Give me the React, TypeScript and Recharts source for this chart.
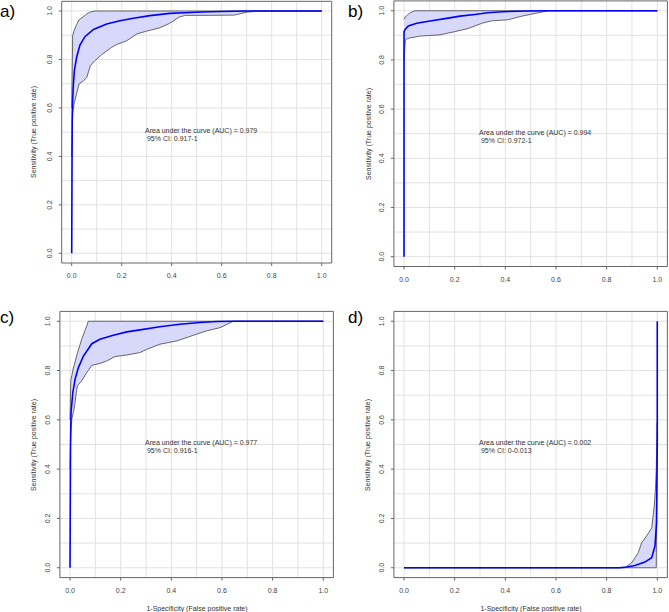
import { ComposedChart, Line, Area, XAxis, YAxis, CartesianGrid, ReferenceArea } from 'recharts'

const axisTicks = [0, 0.2, 0.4, 0.6, 0.8, 1]
const gridValues = [0, 0.1, 0.2, 0.3, 0.4, 0.5, 0.6, 0.7, 0.8, 0.9, 1]

// a)
const rocA_fpr = [0, 0.002, 0.004, 0.007, 0.011, 0.02, 0.033, 0.053, 0.087, 0.14, 0.193, 0.247, 0.313, 0.393, 0.45, 0.55, 0.7, 1]
const rocA_tpr = [0, 0.55, 0.64, 0.7, 0.756, 0.81, 0.859, 0.894, 0.924, 0.946, 0.96, 0.97, 0.981, 0.99, 0.993, 0.997, 1, 1]
const bandA_fpr = [0, 0.004, 0.01, 0.02, 0.03, 0.045, 0.06, 0.075, 0.093, 0.12, 0.14, 0.16, 0.18, 0.22, 0.26, 0.3, 0.35, 0.39, 0.43, 0.455, 0.55, 0.65, 0.7, 0.75, 1]
const bandA_lo = [0.4, 0.58, 0.62, 0.66, 0.7, 0.71, 0.725, 0.775, 0.795, 0.82, 0.835, 0.85, 0.862, 0.877, 0.905, 0.917, 0.93, 0.948, 0.975, 0.982, 0.982, 0.983, 0.995, 1, 1]
const bandA_hi = [0.6, 0.9, 0.92, 0.945, 0.965, 0.975, 0.988, 0.996, 1, 1, 1, 1, 1, 1, 1, 1, 1, 1, 1, 1, 1, 1, 1, 1, 1]

// b)
const rocB_fpr = [0, 0, 0.005, 0.017, 0.05, 0.103, 0.168, 0.221, 0.28, 0.33, 0.39, 0.49, 0.57, 1]
const rocB_tpr = [0, 0.915, 0.925, 0.938, 0.949, 0.958, 0.969, 0.978, 0.985, 0.992, 0.996, 0.999, 1, 1]
const bandB_fpr = [0, 0.005, 0.013, 0.024, 0.043, 0.063, 0.096, 0.142, 0.2, 0.254, 0.307, 0.346, 0.41, 0.465, 0.517, 0.57, 1]
const bandB_lo = [0.8, 0.881, 0.886, 0.89, 0.893, 0.897, 0.899, 0.902, 0.915, 0.928, 0.949, 0.959, 0.963, 0.978, 0.989, 1, 1]
const bandB_hi = [0.965, 0.975, 0.982, 0.992, 1, 1, 1, 1, 1, 1, 1, 1, 1, 1, 1, 1, 1]

// c)
const rocC_fpr = [0, 0.002, 0.004, 0.011, 0.02, 0.033, 0.053, 0.086, 0.118, 0.171, 0.224, 0.276, 0.355, 0.434, 0.513, 0.579, 0.645, 1]
const rocC_tpr = [0, 0.5, 0.63, 0.71, 0.765, 0.812, 0.859, 0.909, 0.927, 0.943, 0.957, 0.965, 0.978, 0.988, 0.995, 0.999, 1, 1]
const bandC_fpr = [0, 0.003, 0.007, 0.013, 0.016, 0.026, 0.029, 0.046, 0.066, 0.072, 0.086, 0.118, 0.145, 0.178, 0.224, 0.276, 0.303, 0.355, 0.421, 0.487, 0.539, 0.592, 0.645, 1]
const bandC_lo = [0.4, 0.55, 0.602, 0.63, 0.643, 0.72, 0.738, 0.758, 0.792, 0.8, 0.821, 0.829, 0.839, 0.857, 0.863, 0.873, 0.886, 0.907, 0.92, 0.943, 0.961, 0.974, 1, 1]
const bandC_hi = [0.6, 0.76, 0.78, 0.81, 0.82, 0.859, 0.87, 0.927, 0.981, 1, 1, 1, 1, 1, 1, 1, 1, 1, 1, 1, 1, 1, 1, 1]

// d)
const rocD_fpr = [0, 0.85, 0.88, 0.912, 0.951, 0.978, 0.991, 0.997, 1, 1]
const rocD_tpr = [0, 0, 0.003, 0.009, 0.023, 0.041, 0.088, 0.183, 0.5, 1]
const bandD_fpr = [0, 0.872, 0.899, 0.925, 0.938, 0.958, 0.978, 0.988, 0.993, 0.996, 1]
const bandD_lo = [0, 0, 0, 0, 0, 0, 0, 0, 0, 0, 0.59]
const bandD_hi = [0, 0, 0.02, 0.061, 0.101, 0.129, 0.162, 0.25, 0.32, 0.4, 0.59]

const aucLines = [
  ['Area under the curve (AUC) = 0.979', ' 95% CI: 0.917-1'],
  ['Area under the curve (AUC) = 0.994', ' 95% CI: 0.972-1'],
  ['Area under the curve (AUC) = 0.977', ' 95% CI: 0.916-1'],
  ['Area under the curve (AUC) = 0.002', ' 95% CI: 0-0.013'],
]
const panelLabels = ['a)', 'b)', 'c)', 'd)']

const FONT = '"Liberation Sans", Arial, sans-serif'
const Y_AXIS_W = 40
const X_AXIS_H = 30

const zip = (xs: number[], ys: number[]) => xs.map((x, i) => ({ x, y: ys[i] }))
const zipBand = (xs: number[], lo: number[], hi: number[]) =>
  xs.map((x, i) => ({ x, band: [lo[i], hi[i]] }))

const XTick = ({ x, y, payload }: any) => (
  <text x={x} y={y} dy="0.35em" textAnchor="middle" fontSize={7} fill="#444" fontFamily={FONT}>
    {Number(payload.value).toFixed(1)}
  </text>
)

const YTick = ({ x, y, payload }: any) => (
  <text
    x={x}
    y={y}
    dy="0.35em"
    textAnchor="middle"
    fontSize={7}
    fill="#444"
    fontFamily={FONT}
    transform={`rotate(-90, ${x}, ${y})`}
  >
    {Number(payload.value).toFixed(1)}
  </text>
)

interface Frame { l: number; t: number; r: number; b: number }

const panels = [
  {
    box: [0, 0, 335, 306], frame: { l: 61.7, t: 1.3, r: 331.7, b: 263 },
    roc: zip(rocA_fpr, rocA_tpr), band: zipBand(bandA_fpr, bandA_lo, bandA_hi),
    label: [0, 3], auc: [145, 127], ytitle: [33, 132], xtitle: null,
  },
  {
    box: [335, 0, 334, 306], frame: { l: 393.9, t: 0.9, r: 667.4, b: 266.5 },
    roc: zip(rocB_fpr, rocB_tpr), band: zipBand(bandB_fpr, bandB_lo, bandB_hi),
    label: [348, 3], auc: [479, 128.7], ytitle: [368, 133.7], xtitle: null,
  },
  {
    box: [0, 306, 335, 306], frame: { l: 59.9, t: 311.4, r: 333.4, b: 577.6 },
    roc: zip(rocC_fpr, rocC_tpr), band: zipBand(bandC_fpr, bandC_lo, bandC_hi),
    label: [0, 309], auc: [145, 438.7], ytitle: [33, 444.5], xtitle: [197, 607.7],
  },
  {
    box: [335, 306, 334, 306], frame: { l: 393.9, t: 311.4, r: 667.4, b: 577.6 },
    roc: zip(rocD_fpr, rocD_tpr), band: zipBand(bandD_fpr, bandD_lo, bandD_hi),
    label: [348, 309], auc: [479, 438.7], ytitle: [367, 444.5], xtitle: [531, 607.7],
  },
]

function RocPanel({ box, frame, roc, band }: { box: number[]; frame: Frame; roc: any[]; band: any[] }) {
  const [bx, by, bw, bh] = box
  const margin = {
    top: frame.t - by,
    right: bx + bw - frame.r,
    left: frame.l - bx - Y_AXIS_W,
    bottom: by + bh - frame.b - X_AXIS_H,
  }
  return (
    <div style={{ position: 'absolute', left: bx, top: by }}>
      <ComposedChart width={bw} height={bh} margin={margin}>
        <CartesianGrid verticalValues={gridValues} horizontalValues={gridValues} stroke="#e2e2e2" strokeWidth={1} />
        <XAxis
          type="number"
          dataKey="x"
          domain={[-0.04, 1.04]}
          ticks={axisTicks}
          interval={0}
          allowDataOverflow
          height={X_AXIS_H}
          axisLine={false}
          tickSize={3}
          tickMargin={10}
          tickLine={{ stroke: '#666' }}
          tick={XTick}
        />
        <YAxis
          type="number"
          domain={[-0.04, 1.04]}
          ticks={axisTicks}
          interval={0}
          allowDataOverflow
          width={Y_AXIS_W}
          axisLine={false}
          tickSize={3}
          tickMargin={9}
          tickLine={{ stroke: '#666' }}
          tick={YTick}
        />
        <Area
          data={band}
          dataKey="band"
          type="linear"
          fill="#d8d8fa"
          fillOpacity={1}
          stroke="#444"
          strokeWidth={0.8}
          isAnimationActive={false}
        />
        <Line
          data={roc}
          dataKey="y"
          type="linear"
          stroke="#0000ff"
          strokeWidth={1.6}
          dot={false}
          isAnimationActive={false}
        />
        <ReferenceArea x1={-0.04} x2={1.04} y1={-0.04} y2={1.04} fill="none" stroke="#666" strokeWidth={1} ifOverflow="visible" />
      </ComposedChart>
    </div>
  )
}

export default function App() {
  const small = { position: 'absolute' as const, fontFamily: FONT, fontSize: 7, color: '#333', whiteSpace: 'pre' as const }
  return (
    <div style={{ position: 'absolute', left: 0, top: 0, width: 669, height: 612, background: '#fff', overflow: 'hidden' }}>
      {panels.map((p, i) => (
        <div key={i}>
          <RocPanel box={p.box} frame={p.frame} roc={p.roc} band={p.band} />
          <div style={{ position: 'absolute', left: p.label[0], top: p.label[1], fontFamily: FONT, fontSize: 17, lineHeight: 1, color: '#000' }}>
            {panelLabels[i]}
          </div>
          <div style={{ ...small, left: p.auc[0], top: p.auc[1], lineHeight: '8px' }}>
            {aucLines[i][0]}
            {'\n'}
            {aucLines[i][1]}
          </div>
          <div
            style={{
              ...small,
              left: p.ytitle[0],
              top: p.ytitle[1],
              lineHeight: 1,
              transform: 'translate(-50%, -50%) rotate(-90deg)',
            }}
          >
            Sensitivity (True positive rate)
          </div>
          {p.xtitle && (
            <div style={{ ...small, left: p.xtitle[0], top: p.xtitle[1], lineHeight: 1, transform: 'translate(-50%, -50%)' }}>
              1-Specificity (False positive rate)
            </div>
          )}
        </div>
      ))}
    </div>
  )
}
